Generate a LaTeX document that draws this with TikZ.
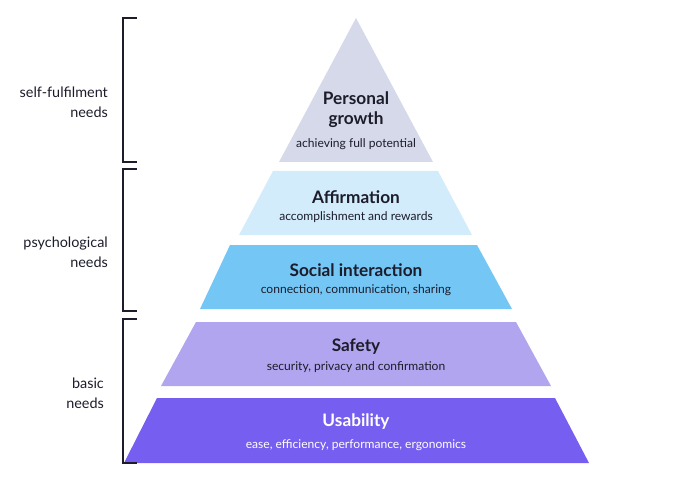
\documentclass[tikz,border=0pt]{standalone}
\usepackage{fontspec}
\setmainfont{Lato}
\usepackage{xcolor}
\usetikzlibrary{positioning, calc}

\definecolor{inkcol}{HTML}{1C1C2B}
\definecolor{growthcol}{HTML}{D6D9EA}
\definecolor{affirmcol}{HTML}{D3ECFB}
\definecolor{socialcol}{HTML}{74C6F5}
\definecolor{safetycol}{HTML}{B0A5EE}
\definecolor{usabilitycol}{HTML}{765EF0}

\begin{document}
\begin{tikzpicture}[
    x=0.3mm, y=-0.3mm,
    title/.style={font=\bfseries\fontsize{14.7}{17}\selectfont, text=inkcol, align=center},
    subtitle/.style={font=\fontsize{10.3}{12}\selectfont, text=inkcol},
    needs/.style={font=\fontsize{12.3}{17}\selectfont, text=inkcol, align=right, anchor=east},
    bracket/.style={line width=2.1pt, draw=inkcol}
]
    \useasboundingbox (0,0) rectangle (700,497);

    % Layers
    \fill[growthcol] (356,18) -- (433,162) -- (279,162) -- cycle;
    \fill[affirmcol] (273,171) -- (438,171) -- (472,235) -- (239,235) -- cycle;
    \fill[socialcol] (230,245) -- (477,245) -- (512,309) -- (200,309) -- cycle;
    \fill[safetycol] (196,322) -- (516,322) -- (551,386) -- (161,386) -- cycle;
    \fill[usabilitycol] (157,398) -- (555,398) -- (589,463) -- (124,463) -- cycle;

    % Titles
    \node[title] (growth) at (356,110) {Personal\\growth};
    \node[title] (affirm) at (356,197) {Affirmation};
    \node[title] (social) at (356,270) {Social interaction};
    \node[title] (safety) at (356,347) {Safety};
    \node[title, text=white] (usability) at (356,422) {Usability};

    % Subtitles
    \node[subtitle] (growthsub) at (356,144) {achieving full potential};
    \node[subtitle] (affirmsub) at (356,217) {accomplishment and rewards};
    \node[subtitle] (socialsub) at (356,290) {connection, communication, sharing};
    \node[subtitle] (safetysub) at (356,367) {security, privacy and confirmation};
    \node[subtitle, text=white] (usabilitysub) at (356,445) {ease, efficiency, performance, ergonomics};

    % Brackets
    \draw[bracket] (137,18) -| (123,162) -- (137,162);
    \draw[bracket] (137,169) -| (123,311) -- (137,311);
    \draw[bracket] (137,319) -| (123,463) -- (137,463);

    % Needs
    \node[needs] (selfneeds) at (112,102) {self-fulfilment\\needs};
    \node[needs] (psychneeds) at (112,252) {psychological\\needs};
    \node[needs] (basicneeds) at (108,393) {basic\\needs};
\end{tikzpicture}
\end{document}
